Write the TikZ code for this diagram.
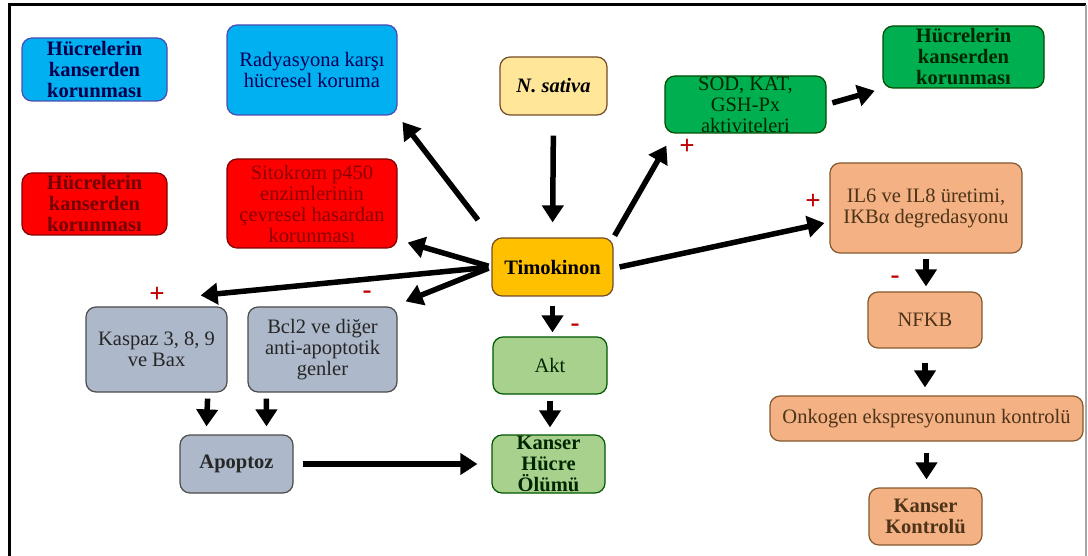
\documentclass[tikz,border=0pt]{standalone}
\usepackage{fontspec}
\setmainfont{Liberation Serif}
\usepackage{xcolor}
\usepackage{tikz}
\usetikzlibrary{calc,positioning,arrows.meta}

\definecolor{skyblue}{HTML}{00B0F0}
\definecolor{brightred}{HTML}{FF0000}
\definecolor{leafgreen}{HTML}{00B050}
\definecolor{paleyellow}{HTML}{FFE699}
\definecolor{amber}{HTML}{FFC000}
\definecolor{peach}{HTML}{F4B183}
\definecolor{slategray}{HTML}{ADB9CA}
\definecolor{palegreen}{HTML}{A9D18E}
\definecolor{signred}{HTML}{C00000}

\begin{document}
\begin{tikzpicture}[x=1pt, y=-1pt,
    box/.style={draw, line width=1.2pt, rounded corners=10pt, align=center,
      font=\fontsize{20.5}{21}\selectfont, inner sep=2pt},
    bluebox/.style={box, fill=skyblue, draw=blue!40!gray, text=blue!30!black},
    redbox/.style={box, fill=brightred, draw=red!50!black, text=red!45!black},
    greenbox/.style={box, fill=leafgreen, draw=green!30!black, text=green!15!black},
    peachbox/.style={box, fill=peach, draw=brown!70!black, text=brown!40!black},
    graybox/.style={box, fill=slategray, draw=gray!60!black, text=black!85},
    mintbox/.style={box, fill=palegreen, draw=green!35!black, text=green!15!black},
    arr/.style={line width=5.5pt, -{Triangle[length=17pt,width=21pt]}},
    sign/.style={text=signred, font=\fontsize{27}{27}\selectfont\bfseries},
  ]
  \useasboundingbox (0,0) rectangle (1088,556);
  % frame
  \draw[line width=3pt] (9,556) -- (9,5) -- (1086,5);
  \draw[line width=1.2pt, gray!70] (1086,5) -- (1086,556);

  % left column
  \node[bluebox, minimum width=145pt, minimum height=63pt, inner ysep=-1pt] (blu) at (94.5,69.5)
    {\textbf{Hücrelerin}\\\textbf{kanserden}\\\textbf{korunması}};
  \node[redbox, minimum width=145pt, minimum height=62pt, inner ysep=-1pt] (red) at (94.5,204)
    {\textbf{Hücrelerin}\\\textbf{kanserden}\\\textbf{korunması}};
  \node[bluebox, minimum width=170pt, minimum height=90pt, text=blue!35!black] (rad) at (312,70)
    {Radyasyona karşı\\hücresel koruma};
  \node[redbox, minimum width=170pt, minimum height=89pt, inner ysep=0pt, text=red!55!black] (sit) at (312,203.5)
    {Sitokrom p450\\enzimlerinin\\çevresel hasardan\\korunması};

  % centre column
  \node[box, fill=paleyellow, draw=brown!60!black, minimum width=107pt, minimum height=58pt] (nsat) at (553.5,86)
    {\textit{\textbf{N. sativa}}};
  \node[box, fill=amber, draw=brown!60!black, minimum width=121pt, minimum height=58pt] (tim) at (552.5,267)
    {\textbf{Timokinon}};
  \node[mintbox, minimum width=114pt, minimum height=57pt] (akt) at (550,365.5) {Akt};
  \node[mintbox, minimum width=113pt, minimum height=58pt, inner ysep=-2pt] (khu) at (548.5,464)
    {\textbf{Kanser}\\\textbf{Hücre}\\\textbf{Ölümü}};

  % apoptosis branch
  \node[graybox, minimum width=141pt, minimum height=85pt] (kas) at (156.5,349.5)
    {Kaspaz 3, 8, 9\\ve Bax};
  \node[graybox, minimum width=149pt, minimum height=85pt] (bcl) at (322.5,349.5)
    {Bcl2 ve diğer\\anti-apoptotik\\genler};
  \node[graybox, minimum width=113pt, minimum height=58pt] (apo) at (236.5,464)
    {\textbf{Apoptoz}};

  % right side
  \node[greenbox, minimum width=161pt, minimum height=57pt, inner ysep=-3pt] (sod) at (745.5,104.5)
    {SOD, KAT,\\GSH-Px\\aktiviteleri};
  \node[greenbox, minimum width=161pt, minimum height=62pt, inner ysep=-1pt] (grn) at (963.5,57)
    {\textbf{Hücrelerin}\\\textbf{kanserden}\\\textbf{korunması}};
  \node[peachbox, minimum width=192pt, minimum height=90pt] (il) at (926,208)
    {IL6 ve IL8 üretimi,\\IKBα degredasyonu};
  \node[peachbox, minimum width=114pt, minimum height=56pt] (nfk) at (925,320) {NFKB};
  \node[peachbox, minimum width=313pt, minimum height=45pt] (onk) at (926.5,418.5)
    {Onkogen ekspresyonunun kontrolü};
  \node[peachbox, minimum width=113pt, minimum height=57pt] (kk) at (925.5,516.5)
    {\textbf{Kanser}\\\textbf{Kontrolü}};

  % connectors
  \draw[arr, shorten <=20pt, shorten >=15pt] (nsat.south) -- (tim.north);
  \draw[arr, shorten <=22pt, shorten >=8pt] (tim.north west) -- (rad.south east);
  \draw[arr, shorten <=3pt] (tim.west) -- ($(sit.south east)+(10,-6)$);
  \draw[arr, shorten <=3pt] (tim.west) -- ($(kas.north east)+(-27,-11)$);
  \draw[arr, shorten <=3pt] (tim.west) -- ($(bcl.north east)+(8,-5)$);
  \draw[arr, shorten <=2pt] (tim.north east) -- ($(sod.south west)+(2,12)$);
  \draw[arr, shorten <=6pt, shorten >=8pt] (sod.east) -- (grn.south west);
  \draw[arr] ($(tim.east)+(6,0)$) -- ($(il.west)+(-5,15)$);
  \draw[arr, shorten <=9pt, shorten >=4pt] (tim.south) -- (tim.south |- akt.north);
  \draw[arr, shorten <=6pt, shorten >=7pt] (akt.south) -- (akt.south |- khu.north);
  \draw[arr] ($(kas.south east)+(-20,6)$) -- ($(apo.north)+(-30,-8)$);
  \draw[arr] ($(bcl.south west)+(19,6)$) -- ($(apo.north)+(30,-8)$);
  \draw[arr, shorten <=9pt, shorten >=14pt] (apo.east) -- (khu.west);
  \draw[arr, shorten <=5pt, shorten >=5pt] (il.south) -- (il.south |- nfk.north);
  \draw[arr, shorten <=14pt, shorten >=8pt] (nfk.south) -- (nfk.south |- onk.north);
  \draw[arr, shorten <=11pt, shorten >=8pt] (onk.south) -- (onk.south |- kk.north);

  % signs
  \node[sign] (pkas) at (157,295) {+};
  \node[sign] (mbcl) at (367,295) {-};
  \node[sign] (psod) at (687,147) {+};
  \node[sign] (pil) at (813,202) {+};
  \node[sign] (makt) at (575,328) {-};
  \node[sign] (mnfk) at (895,280) {-};
\end{tikzpicture}
\end{document}
